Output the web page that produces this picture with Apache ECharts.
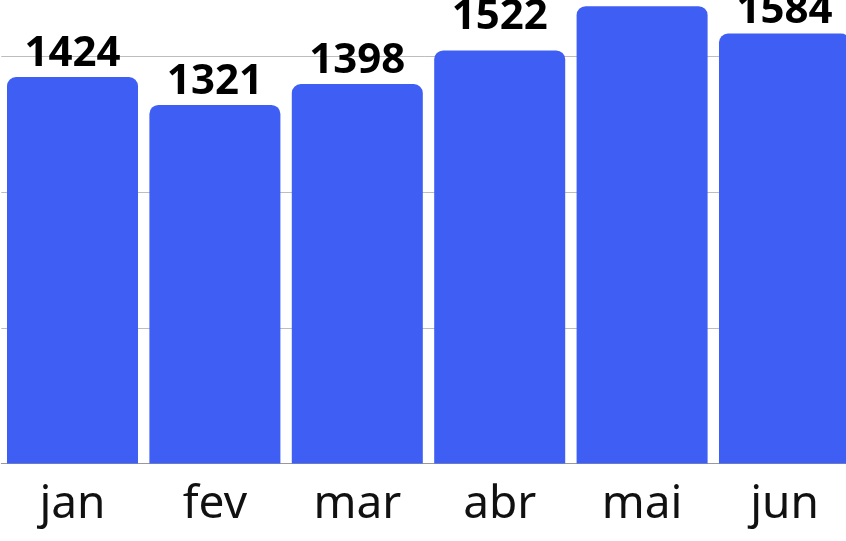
<!DOCTYPE html>
<html>
<head>
<meta charset="utf-8">
<script src="https://cdn.jsdelivr.net/npm/echarts@6/dist/echarts.min.js"></script>
<style>html,body{margin:0;padding:0;background:#fff;}#c{width:846px;height:541px;}</style>
</head>
<body>
<div id="c"></div>
<script>
var categories = ['jan', 'fev', 'mar', 'abr', 'mai', 'jun'];
var values = [1424, 1321, 1398, 1522, 1685, 1584];
var yTicks = [0, 500, 1000, 1500, 2000];

var chart = echarts.init(document.getElementById('c'), null, {renderer: 'canvas'});
var seriesData = values.map(function (v, i) {
  return categories[i] === 'abr' ? {value: v, label: {distance: 12}} : v;
});
chart.setOption({
  animation: false,
  grid: {left: 1.3, width: 854.4, bottom: 77.5, height: 542.8, containLabel: false, outerBoundsMode: 'none'},
  xAxis: {
    type: 'category',
    data: categories,
    axisLine: {lineStyle: {color: '#999', width: 1}},
    axisTick: {show: false},
    axisLabel: {fontFamily: 'Noto Sans', fontSize: 46, color: '#111', margin: 18}
  },
  yAxis: {
    type: 'value',
    min: yTicks[0],
    max: yTicks[yTicks.length - 1],
    interval: 500,
    axisLabel: {show: false},
    axisLine: {show: false},
    axisTick: {show: false},
    splitLine: {lineStyle: {color: '#bdbdbd', width: 1}}
  },
  series: [{
    type: 'bar',
    data: seriesData,
    barCategoryGap: '8%',
    itemStyle: {color: '#3F5EF3', borderRadius: [9, 9, 0, 0]},
    label: {
      show: true,
      position: 'top',
      distance: 2,
      fontFamily: 'Noto Sans',
      fontWeight: 'bold',
      fontSize: 42,
      color: '#000'
    }
  }]
});
</script>
</body>
</html>
